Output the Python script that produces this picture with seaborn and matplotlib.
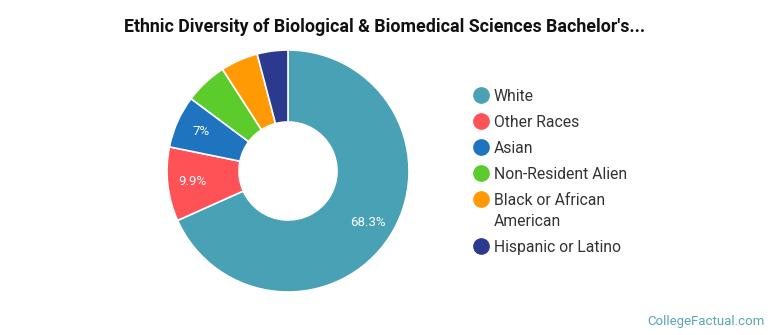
import matplotlib
matplotlib.use("Agg")
import matplotlib.pyplot as plt
from matplotlib.lines import Line2D
import seaborn as sns

# Share of bachelor's degrees by ethnicity (percent)
groups = ["White", "Other Races", "Asian", "Non-Resident Alien",
          "Black or African\nAmerican", "Hispanic or Latino"]
shares = [68.3, 9.9, 7.0, 5.7, 5.0, 4.1]
colors = ["#48a1b4", "#fe5256", "#1f74c0", "#5ccb2c", "#ff9a05", "#2b3a8f"]
title = "Ethnic Diversity of Biological & Biomedical Sciences Bachelor's..."
credit = "CollegeFactual.com"

sns.set_theme(style="white")
plt.rcParams["font.family"] = ["Roboto", "DejaVu Sans"]

W, H = 770, 335
fig = plt.figure(figsize=(W / 100, H / 100), dpi=100)
fig.patch.set_facecolor("white")

# donut axes: centre at (288, 171) px, radius 121 px
cx, cy, r = 288, 171, 121
ax = fig.add_axes([(cx - r) / W, (H - cy - r) / H, 2 * r / W, 2 * r / H])
palette = sns.color_palette(colors)


def fmt(p):
    return f"{p:.1f}%".replace(".0%", "%") if p >= 6.5 else ""


wedges, _, autotexts = ax.pie(
    shares, colors=palette, startangle=90, counterclock=False,
    radius=1.0, autopct=fmt, pctdistance=0.79,
    wedgeprops=dict(width=0.595, edgecolor="white", linewidth=1.2),
    textprops=dict(color="white", fontsize=9.5),
)
ax.set_xlim(-1.0, 1.0)
ax.set_ylim(-1.0, 1.0)
ax.set_aspect("equal")
ax.axis("off")

fig.text(0.5, (H - 27) / H, title, ha="center", va="center",
         fontsize=12.8, fontweight="bold", color="#111111")

# legend: circle marker beside the first line of each label
y = 95
for name, col in zip(groups, colors):
    fig.add_artist(Line2D([481 / W], [(H - y) / H], marker="o",
                          linestyle="none", markersize=11,
                          markerfacecolor=col, markeredgecolor=col,
                          transform=fig.transFigure))
    lines = name.split("\n")
    for i, line in enumerate(lines):
        fig.text(494 / W, (H - y - i * 21) / H, line, ha="left",
                 va="center_baseline", fontsize=11.3, color="#333333")
    y += 26 + (len(lines) - 1) * 21

fig.text(765 / W, (H - 321) / H, credit, ha="right", va="center",
         fontsize=9.5, color="#5aa3b8")

fig.savefig("out.png", dpi=100, facecolor="white")
